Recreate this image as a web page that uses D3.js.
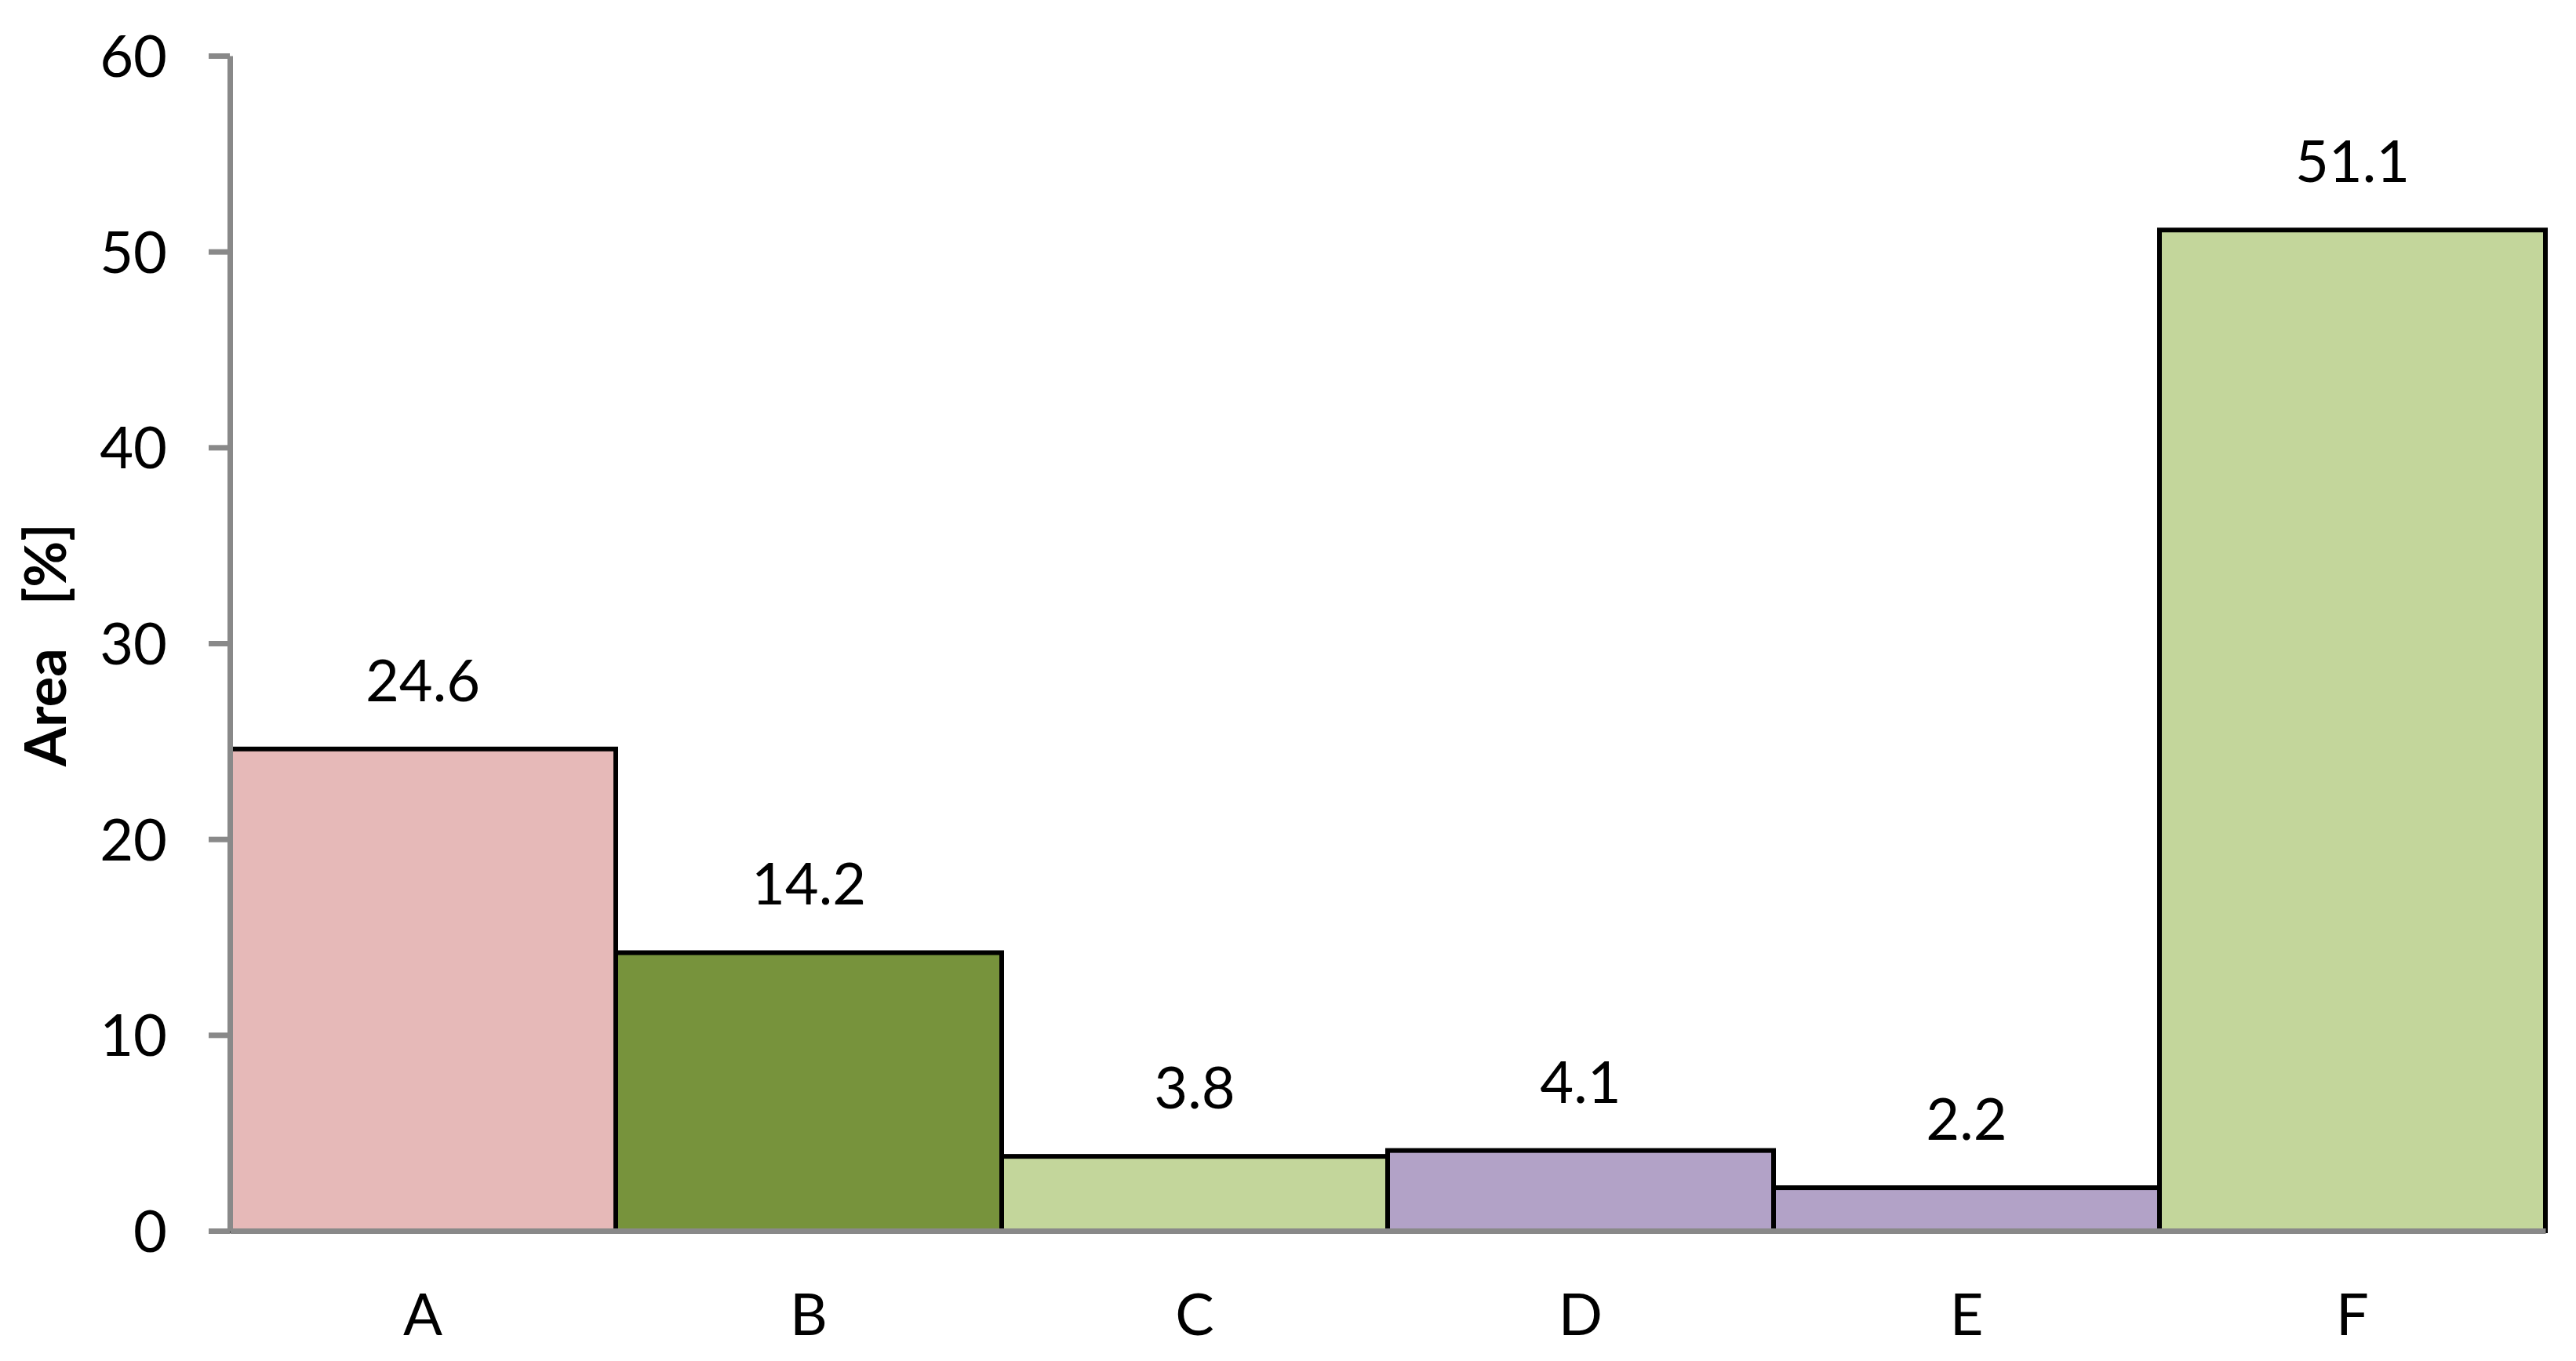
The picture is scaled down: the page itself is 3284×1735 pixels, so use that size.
<!DOCTYPE html>
<html>
<head>
<meta charset="utf-8">
<script src="https://cdn.jsdelivr.net/npm/d3@7"></script>
<style>
  html, body { margin: 0; padding: 0; background: #fff; }
  svg { display: block; }
  text { font-family: Lato, "Open Sans", sans-serif; fill: #000; }
</style>
</head>
<body>
<svg id="chart" width="3284" height="1735"></svg>
<script>
const categories = ["A", "B", "C", "D", "E", "F"];
const values = [24.6, 14.2, 3.8, 4.1, 2.2, 51.1];
const colors = ["#E6B9B8", "#77933C", "#C3D69B", "#B2A2C7", "#B2A2C7", "#C3D69B"];
const yTicks = [0, 10, 20, 30, 40, 50, 60];
const yTitle = "Area  [%]";

const W = 3284, H = 1735;
const margin = { left: 293, right: 39, top: 71, bottom: 166 };
const svg = d3.select("#chart");
const plotW = W - margin.left - margin.right;
const plotH = H - margin.top - margin.bottom;
const g = svg.append("g").attr("transform", `translate(${margin.left},${margin.top})`);

const x = d3.scaleBand().domain(categories).range([0, plotW]).paddingInner(0).paddingOuter(0);
const y = d3.scaleLinear().domain([0, 60]).range([plotH, 0]);

// bars
g.selectAll("rect.bar").data(categories).join("rect")
  .attr("class", "bar")
  .attr("x", d => x(d))
  .attr("y", (d, i) => y(values[i]))
  .attr("width", x.bandwidth())
  .attr("height", (d, i) => y(0) - y(values[i]))
  .attr("fill", (d, i) => colors[i])
  .attr("stroke", "#000")
  .attr("stroke-width", 6);

// value labels
g.selectAll("text.val").data(categories).join("text")
  .attr("class", "val")
  .attr("x", d => x(d) + x.bandwidth() / 2)
  .attr("y", (d, i) => y(values[i]) - 61)
  .attr("text-anchor", "middle")
  .style("font-size", "74px")
  .text((d, i) => values[i].toFixed(1));

// y axis
const yAxis = g.append("g")
  .call(d3.axisLeft(y).tickValues(yTicks).tickSize(27).tickSizeOuter(0).tickPadding(0));
yAxis.select(".domain").attr("stroke", "#898989").attr("stroke-width", 7);
yAxis.selectAll(".tick line").attr("stroke", "#898989").attr("stroke-width", 7);
yAxis.selectAll(".tick text")
  .attr("x", -80)
  .attr("dy", "0.36em")
  .style("font-size", "74px")
  .style("font-family", "Lato, sans-serif")
  .attr("fill", "#000");

// x axis
const xAxis = g.append("g")
  .attr("transform", `translate(0,${plotH})`)
  .call(d3.axisBottom(x).tickSize(0).tickSizeOuter(0));
xAxis.select(".domain").attr("stroke", "#898989").attr("stroke-width", 7);
xAxis.selectAll(".tick text")
  .attr("y", 133)
  .attr("dy", 0)
  .style("font-size", "74px")
  .style("font-family", "Lato, sans-serif")
  .attr("fill", "#000");

// y title
svg.append("text")
  .attr("transform", `translate(84,822) rotate(-90)`)
  .attr("text-anchor", "middle")
  .style("font-size", "72px")
  .style("font-weight", "bold")
  .style("white-space", "pre")
  .style("word-spacing", "10px")
  .attr("xml:space", "preserve")
  .text(yTitle);
</script>
</body>
</html>
